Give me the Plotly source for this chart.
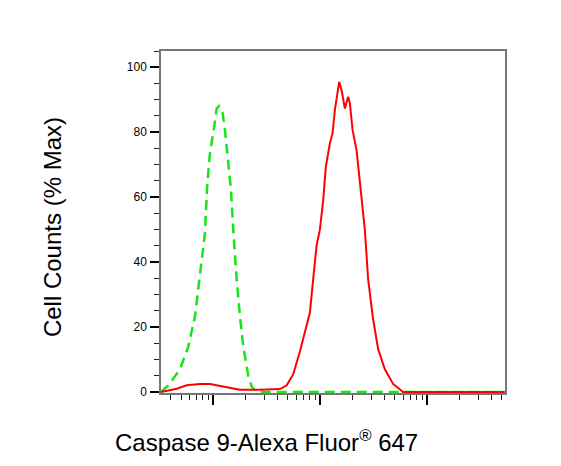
import plotly.graph_objects as go

# Isotype / control (green dashed)
ctrl_x = [32.4, 38.0, 48.8, 58.4, 67.5, 75.1, 83.6, 87.9, 93.1, 102, 107.6, 113, 122.4, 128.6,
          138, 146.3, 153.8, 165.5, 177.6, 190.6, 212.4, 230, 254.4, 646, 5560, 53200]
ctrl_y = [0, 2, 7, 14, 23.4, 35.7, 49, 64, 73.5, 81.7, 87.3, 88, 85.8, 80.7,
          71.5, 62.3, 50, 34.7, 23.4, 14.2, 5, 1.5, 0, 0, 0, 0]

# Caspase 9 stained (red solid)
stain_x = [32.4, 45.5, 56.4, 75.1, 93.1, 107.6, 133.4, 177.6, 273, 420, 485, 560, 646, 720, 801,
           860, 925, 994, 1067, 1130, 1233, 1306, 1372, 1506, 1585, 1702, 1828, 1896, 2009,
           2189, 2350, 2618, 2811, 3128, 3486, 4027, 4812, 5968, 53200]
stain_y = [0, 1, 2.1, 2.5, 2.5, 2.1, 1.3, 0.7, 0.7, 0.9, 2, 5.5, 12.5, 18.3, 24.4,
           34.7, 45, 50, 59, 69.4, 76.6, 79.7, 86.8, 95.5, 93, 87.3, 90.9, 88.9, 80.7,
           74.5, 64.3, 50, 34.7, 22.4, 13.2, 7, 2.5, 0, 0]

y_ticks = [0, 20, 40, 60, 80, 100]
x_title = "Caspase 9-Alexa Fluor<sup>®</sup> 647"
y_title = "Cell Counts (% Max)"

fig = go.Figure()
fig.add_trace(go.Scatter(x=ctrl_x, y=ctrl_y, mode="lines",
                         line=dict(color="#14e614", width=2.5, dash="10px,6px"),
                         showlegend=False))
fig.add_trace(go.Scatter(x=stain_x, y=stain_y, mode="lines",
                         line=dict(color="#ff0000", width=2),
                         showlegend=False))

FONT = "Liberation Sans, Arial, sans-serif"
fig.update_layout(
    width=553, height=458,
    margin=dict(l=153, r=56, t=43, b=73),
    paper_bgcolor="white", plot_bgcolor="white",
    font=dict(family=FONT, color="black"),
    xaxis=dict(type="log", range=[1.511, 4.729], dtick=1, tick0=0,
               showticklabels=False, ticks="outside", ticklen=10, tickwidth=2,
               tickcolor="black", showgrid=False, zeroline=False,
               showline=True, linecolor="#777", linewidth=1.5, mirror=True,
               minor=dict(ticks="outside", ticklen=5, tickwidth=1, tickcolor="#222",
                          dtick="D1", showgrid=False)),
    yaxis=dict(range=[-0.3, 105], tickvals=y_ticks,
               ticks="outside", ticklen=9, tickwidth=2, tickcolor="black",
               tickfont=dict(size=12, family=FONT), ticklabelstandoff=1,
               showgrid=False, zeroline=False,
               showline=True, linecolor="#777", linewidth=1.5, mirror=True,
               minor=dict(ticks="outside", ticklen=5, tickwidth=1, tickcolor="#222",
                          dtick=5, showgrid=False)),
    annotations=[
        dict(text=x_title, xref="paper", yref="paper", x=0.308, y=-0.140,
             showarrow=False, font=dict(size=24, family=FONT), xanchor="center", yanchor="middle"),
        dict(text=y_title, xref="paper", yref="paper", x=-0.317, y=0.485, textangle=-90,
             showarrow=False, font=dict(size=24, family=FONT), xanchor="center", yanchor="middle"),
    ],
)

fig.write_html("out.html")
